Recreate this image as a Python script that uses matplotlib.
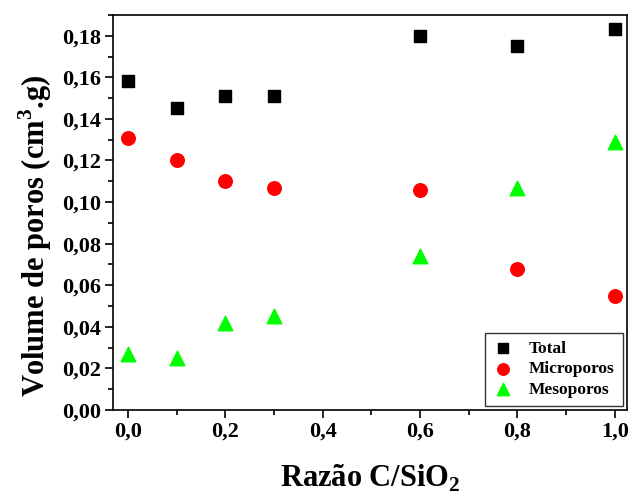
import matplotlib
matplotlib.use("Agg")
import matplotlib.pyplot as plt
from matplotlib.ticker import MultipleLocator, FuncFormatter

plt.rcParams['font.family'] = ['Liberation Serif', 'DejaVu Serif']
plt.rcParams['font.weight'] = 'bold'
plt.rcParams['mathtext.fontset'] = 'custom'
plt.rcParams['mathtext.rm'] = 'Liberation Serif:bold'
plt.rcParams['mathtext.bf'] = 'Liberation Serif:bold'

razao = [0.0, 0.1, 0.2, 0.3, 0.6, 0.8, 1.0]
total = [0.158, 0.145, 0.151, 0.151, 0.180, 0.175, 0.183]
microporos = [0.131, 0.120, 0.110, 0.107, 0.106, 0.068, 0.055]
mesoporos = [0.027, 0.025, 0.042, 0.045, 0.074, 0.107, 0.129]

fig = plt.figure(figsize=(6.33, 4.97), dpi=100)
ax = fig.add_axes([0.1785, 0.175, 0.812, 0.795])

ax.scatter(razao, total, marker='s', s=80, color='black', label='Total', zorder=3)
ax.scatter(razao, microporos, marker='o', s=95, color='#ff0000', label='Microporos', zorder=3)
ax.scatter(razao, mesoporos, marker='^', s=110, color='#00ff00', label='Mesoporos', zorder=3)

ax.set_xlim(-0.031, 1.025)
ax.set_ylim(0, 0.19)
ax.xaxis.set_major_locator(MultipleLocator(0.2))
ax.xaxis.set_minor_locator(MultipleLocator(0.1))
ax.yaxis.set_major_locator(MultipleLocator(0.02))
ax.yaxis.set_minor_locator(MultipleLocator(0.01))
ax.xaxis.set_major_formatter(FuncFormatter(lambda v, p: f"{v:.1f}".replace('.', ',')))
ax.yaxis.set_major_formatter(FuncFormatter(lambda v, p: f"{v:.2f}".replace('.', ',')))

ax.tick_params(which='both', direction='out', width=1.2)
ax.tick_params(which='major', length=5.5, labelsize=16, pad=3)
ax.tick_params(which='minor', length=3.5)
for sp in ax.spines.values():
    sp.set_linewidth(1.2)

ax.set_xlabel('Razão C/SiO$_2$', fontsize=22, fontweight='bold', labelpad=15)
ax.set_ylabel('Volume de poros (cm$^3$.g)', fontsize=22, fontweight='bold', labelpad=6)
ax.yaxis.label.set_y(0.44)

leg = ax.legend(loc='lower right', fontsize=12.5, frameon=True, fancybox=False,
                edgecolor='black', borderpad=0.45, labelspacing=0.25, handletextpad=0.9,
                handlelength=1.2, markerscale=0.85, borderaxespad=0.25)
leg.get_frame().set_linewidth(1.0)
for t in leg.get_texts():
    t.set_fontweight('bold')

fig.savefig('out.png', dpi=100)
